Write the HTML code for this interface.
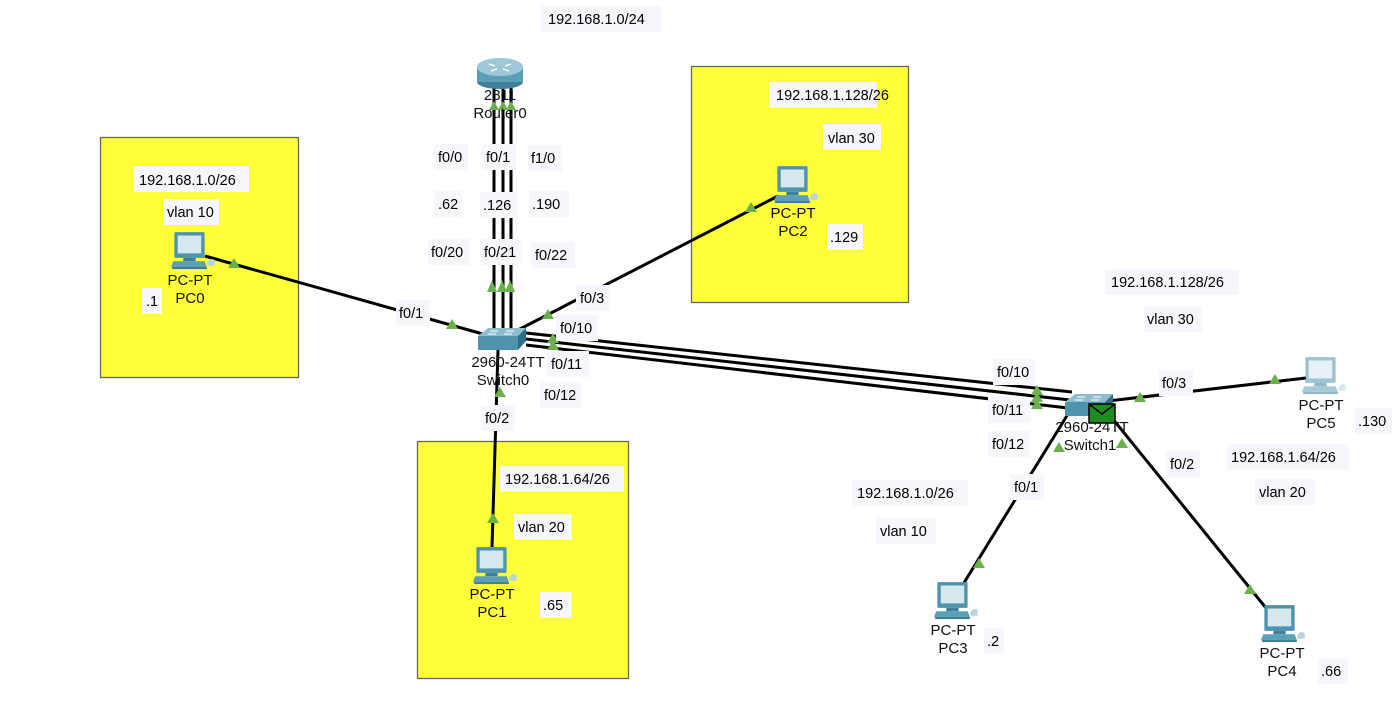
<!DOCTYPE html>
<html><head><meta charset="utf-8"><style>
html,body{margin:0;padding:0;background:#fff;}
svg{display:block;font-family:"Liberation Sans",Arial,sans-serif;}
.l{font-size:14.5px;fill:#000;}
.d{font-size:15px;fill:#111;}
</style></head><body>
<svg width="1392" height="702" viewBox="0 0 1392 702" xmlns="http://www.w3.org/2000/svg">
<defs>
<g id="pc" transform="scale(1.12)">
<rect x="3" y="1" width="27" height="23" fill="#4d93ad" rx="1"/>
<rect x="6" y="4" width="21" height="16" fill="#d6e7ee"/>
<rect x="11" y="24" width="11" height="3" fill="#3f7f98"/>
<polygon points="2,27 30,27 32,32 0,32" fill="#5c9fb8"/>
<rect x="1" y="32" width="31" height="2" fill="#3f7f98"/>
<path d="M32 29 q3 -6 7 -3 l0 5 h-6z" fill="#b8d4de"/>
</g>
<g id="sw">
<polygon points="0,8 10,0 48,0 40,8" fill="#8fbdd0"/>
<rect x="0" y="8" width="40" height="14" fill="#4e94ad"/>
<polygon points="40,8 48,0 48,13 40,22" fill="#2f6e86"/>
<path d="M12 3 h8 M28 3 h8 M10 6 h8 M26 6 h8" stroke="#fff" stroke-width="1"/>
</g>
</defs>
<rect x="100.5" y="137.5" width="198" height="240" fill="#ffff3a" stroke="#666" stroke-width="1.3"/>
<rect x="417.5" y="441.5" width="211" height="237" fill="#ffff3a" stroke="#666" stroke-width="1.3"/>
<rect x="691.5" y="66.5" width="217" height="236" fill="#ffff3a" stroke="#666" stroke-width="1.3"/>

<g stroke="#000" stroke-width="3" fill="none">
<line x1="494" y1="86" x2="494" y2="332"/>
<line x1="503" y1="86" x2="503" y2="332"/>
<line x1="511" y1="86" x2="511" y2="332"/>
<line x1="205" y1="256" x2="490" y2="336"/>
<line x1="518" y1="330" x2="778" y2="196"/>
<line x1="498" y1="350" x2="492" y2="547"/>
<line x1="526" y1="333" x2="1072" y2="392"/>
<line x1="526" y1="339" x2="1070" y2="400"/>
<line x1="526" y1="345" x2="1068" y2="408"/>
<line x1="1108" y1="401" x2="1306" y2="378"/>
<line x1="1068" y1="414" x2="962" y2="586"/>
<line x1="1112" y1="418" x2="1266" y2="608"/>
</g>

<g>
<ellipse cx="500" cy="82" rx="23" ry="7" fill="#3f7f98"/>
<rect x="477" y="67" width="46" height="15" fill="#5a9fb8"/>
<ellipse cx="500" cy="67" rx="23" ry="9" fill="#9cc8d8"/>
<path d="M489 64 l6 2 M511 64 l-6 2 M491 71 l6 -2 M509 71 l-6 -2" stroke="#fff" stroke-width="1.5"/>
</g>
<use href="#sw" x="478" y="328"/>
<use href="#sw" x="1065" y="394"/>
<rect x="1089" y="404" width="26" height="19" fill="#1e8c1e" stroke="#000" stroke-width="1.5"/>
<path d="M1089 404 l13 10 l13 -10" stroke="#000" stroke-width="1.5" fill="none"/>
<use href="#pc" x="171" y="231"/>
<use href="#pc" x="473" y="546"/>
<use href="#pc" x="774" y="165"/>
<use href="#pc" x="934" y="581"/>
<use href="#pc" x="1261" y="604"/>
<g opacity="0.55"><use href="#pc" x="1302" y="356"/></g>

<g fill="#6ab04c">
<polygon points="494,101 489,110 499,110"/><polygon points="503,101 498,110 508,110"/><polygon points="511,101 506,110 516,110"/>
<polygon points="492,280 487,292 497,292"/><polygon points="502,280 497,292 507,292"/><polygon points="510,280 505,292 515,292"/>
<polygon points="234,258 228,268 240,268"/>
<polygon points="452,319 446,329 458,329"/>
<polygon points="548,309 542,319 554,319"/>
<polygon points="751,202 745,212 757,212"/>
<polygon points="553,333 547,343 559,343"/><polygon points="553,340 547,350 559,350"/>
<polygon points="500,387 494,397 506,397"/>
<polygon points="493,513 487,523 499,523"/>
<polygon points="1037,385 1031,395 1043,395"/><polygon points="1037,392 1031,402 1043,402"/><polygon points="1037,399 1031,409 1043,409"/>
<polygon points="1140,392 1134,402 1146,402"/>
<polygon points="1275,374 1269,384 1281,384"/>
<polygon points="1059,442 1053,452 1065,452"/>
<polygon points="1122,438 1116,448 1128,448"/>
<polygon points="979,558 973,568 985,568"/>
<polygon points="1250,584 1244,594 1256,594"/>
</g>

<g class="d" text-anchor="middle">
<text x="500" y="100">2811</text><text x="500" y="118">Router0</text>
<text x="508" y="367">2960-24TT</text><text x="503" y="385">Switch0</text>
<text x="1092" y="432">2960-24TT</text><text x="1090" y="450">Switch1</text>
<text x="190" y="285">PC-PT</text><text x="190" y="303">PC0</text>
<text x="492" y="599">PC-PT</text><text x="492" y="617">PC1</text>
<text x="793" y="218">PC-PT</text><text x="793" y="236">PC2</text>
<text x="953" y="635">PC-PT</text><text x="953" y="653">PC3</text>
<text x="1282" y="658">PC-PT</text><text x="1282" y="676">PC4</text>
<text x="1321" y="410">PC-PT</text><text x="1321" y="428">PC5</text>
</g>

<g class="l">
<g fill="#f5f7fc">
<rect x="541" y="6" width="120" height="26"/>
<rect x="769" y="82" width="108" height="26"/><rect x="823" y="124" width="58" height="26"/><rect x="827" y="224" width="36" height="26"/>
<rect x="133" y="166" width="116" height="26"/><rect x="163" y="199" width="56" height="26"/><rect x="142" y="288" width="20" height="26"/>
<rect x="396" y="300" width="34" height="26"/>
<rect x="434" y="144" width="34" height="26"/><rect x="482" y="144" width="34" height="26"/><rect x="528" y="145" width="34" height="26"/>
<rect x="434" y="191" width="28" height="26"/><rect x="480" y="192" width="38" height="26"/><rect x="529" y="191" width="40" height="26"/>
<rect x="428" y="239" width="42" height="26"/><rect x="480" y="239" width="42" height="26"/><rect x="531" y="242" width="44" height="26"/>
<rect x="576" y="285" width="34" height="26"/><rect x="556" y="315" width="42" height="26"/><rect x="547" y="351" width="42" height="26"/><rect x="540" y="382" width="42" height="26"/>
<rect x="481" y="405" width="34" height="26"/>
<rect x="500" y="466" width="124" height="26"/><rect x="514" y="514" width="58" height="26"/><rect x="540" y="592" width="32" height="26"/>
<rect x="1105" y="269" width="134" height="26"/><rect x="1144" y="306" width="58" height="26"/>
<rect x="993" y="359" width="42" height="26"/><rect x="988" y="397" width="42" height="26"/><rect x="988" y="431" width="42" height="26"/>
<rect x="1159" y="370" width="34" height="26"/><rect x="1010" y="474" width="34" height="26"/><rect x="1166" y="451" width="34" height="26"/>
<rect x="852" y="480" width="116" height="26"/><rect x="876" y="518" width="60" height="26"/>
<rect x="1227" y="444" width="122" height="26"/><rect x="1255" y="479" width="60" height="26"/>
<rect x="1355" y="408" width="38" height="26"/><rect x="984" y="628" width="20" height="26"/><rect x="1318" y="658" width="30" height="26"/>
</g>
<text x="548" y="24">192.168.1.0/24</text>
<text x="776" y="100">192.168.1.128/26</text><text x="828" y="143">vlan 30</text><text x="830" y="242">.129</text>
<text x="139" y="185">192.168.1.0/26</text><text x="167" y="217">vlan 10</text><text x="146" y="306">.1</text>
<text x="399" y="318">f0/1</text>
<text x="438" y="162">f0/0</text><text x="486" y="162">f0/1</text><text x="531" y="163">f1/0</text>
<text x="438" y="209">.62</text><text x="483" y="210">.126</text><text x="532" y="209">.190</text>
<text x="431" y="257">f0/20</text><text x="484" y="257">f0/21</text><text x="535" y="260">f0/22</text>
<text x="580" y="303">f0/3</text><text x="560" y="333">f0/10</text><text x="551" y="369">f0/11</text><text x="544" y="400">f0/12</text>
<text x="485" y="423">f0/2</text>
<text x="505" y="484">192.168.1.64/26</text><text x="518" y="532">vlan 20</text><text x="543" y="610">.65</text>
<text x="1111" y="287">192.168.1.128/26</text><text x="1147" y="324">vlan 30</text>
<text x="997" y="377">f0/10</text><text x="992" y="415">f0/11</text><text x="992" y="449">f0/12</text>
<text x="1162" y="388">f0/3</text><text x="1014" y="492">f0/1</text><text x="1170" y="469">f0/2</text>
<text x="857" y="498">192.168.1.0/26</text><text x="880" y="536">vlan 10</text>
<text x="1231" y="462">192.168.1.64/26</text><text x="1259" y="497">vlan 20</text>
<text x="1358" y="426">.130</text><text x="987" y="646">.2</text><text x="1321" y="676">.66</text>
</g>
</svg>
</body></html>
